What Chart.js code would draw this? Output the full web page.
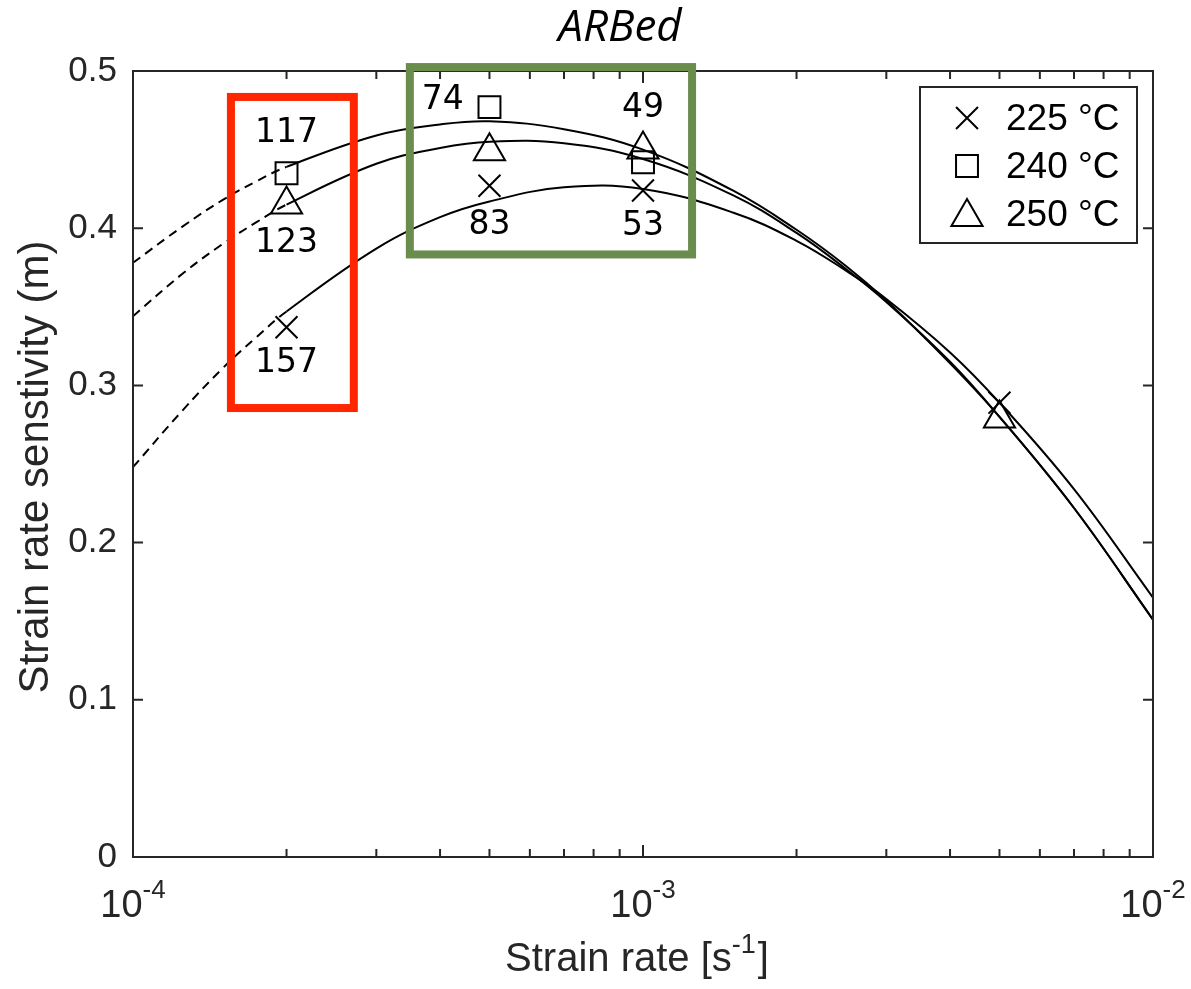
<!DOCTYPE html>
<html>
<head>
<meta charset="utf-8">
<script src="https://cdn.jsdelivr.net/npm/chart.js@4/dist/chart.umd.min.js"></script>
<style>
  html, body { margin: 0; padding: 0; background: #fff; }
  #wrap { width: 1191px; height: 989px; }
</style>
</head>
<body>
<div id="wrap"><canvas id="chart" width="1191" height="989"></canvas></div>
<script>
// measured points (strain rate, m)
var series = ['225 °C', '240 °C', '250 °C'];
var styles = ['crossRot', 'rect', 'triangle'];
var x225 = [2e-4, 5e-4, 1e-3, 5e-3];
var m225 = [0.337, 0.427, 0.424, 0.289];
var x240 = [2e-4, 5e-4, 1e-3];
var m240 = [0.435, 0.477, 0.442];
var x250 = [2e-4, 5e-4, 1e-3, 5e-3];
var m250 = [0.415, 0.449, 0.450, 0.279];

// fitted curves
var fitX   = [1e-4, 1.25e-4, 1.5e-4, 1.75e-4, 2e-4, 3e-4, 4e-4, 5e-4, 7e-4, 1e-3, 1.5e-3, 2e-3, 2.5e-3, 3e-3, 4e-3, 5e-3, 7e-3, 1e-2];
var fit225 = [0.248, 0.284, 0.311, 0.331, 0.347, 0.387, 0.407, 0.417, 0.426, 0.425, 0.410, 0.392, 0.373, 0.355, 0.321, 0.289, 0.234, 0.165];
var fit240 = [0.378, 0.401, 0.418, 0.430, 0.439, 0.459, 0.466, 0.468, 0.463, 0.450, 0.424, 0.399, 0.376, 0.354, 0.314, 0.280, 0.222, 0.151];
var fit250 = [0.344, 0.371, 0.390, 0.404, 0.415, 0.441, 0.451, 0.455, 0.454, 0.444, 0.421, 0.397, 0.374, 0.353, 0.315, 0.280, 0.222, 0.151];
var dashedUntil = 2e-4;

// axis ticks
var yTicks = [0, 0.1, 0.2, 0.3, 0.4, 0.5];
var xMajor = [1e-4, 1e-3, 1e-2];
var xTickLabels = ['10^-4', '10^-3', '10^-2'];
var xMinor = [2e-4, 3e-4, 4e-4, 5e-4, 6e-4, 7e-4, 8e-4, 9e-4, 2e-3, 3e-3, 4e-3, 5e-3, 6e-3, 7e-3, 8e-3, 9e-3];

// annotations (text, strain rate, m)
var noteText = ['117', '123', '157', '74', '83', '49', '53'];
var noteX = [2e-4, 2e-4, 2e-4, 4.05e-4, 5e-4, 1e-3, 1e-3];
var noteY = [0.460, 0.390, 0.314, 0.481, 0.402, 0.476, 0.401];
// highlight boxes [x1, x2, y1, y2]
var redBox = [1.556e-4, 2.71e-4, 0.2856, 0.4835];
var greenBox = [3.49e-4, 1.248e-3, 0.3833, 0.5025];

function pts(xs, ys) {
  return xs.map(function (v, i) { return { x: v, y: ys[i] }; });
}

var axisCol = '#262626';
var sans = '"Liberation Sans", Arial, sans-serif';

function fitSet(ys) {
  return {
    type: 'line',
    data: pts(fitX, ys),
    borderColor: '#000',
    borderWidth: 2,
    pointRadius: 0,
    fill: false,
    tension: 0.4,
    segment: {
      borderDash: function (c) { return c.p1.parsed.x <= dashedUntil * 1.0001 ? [9, 6] : undefined; }
    }
  };
}
function markSet(i, xs, ys) {
  return {
    label: series[i],
    data: pts(xs, ys),
    showLine: false,
    pointStyle: styles[i],
    pointRadius: styles[i] == 'triangle' ? 18 : 15.5,
    pointBackgroundColor: 'rgba(0,0,0,0)',
    pointBorderColor: '#000',
    pointBorderWidth: 2
  };
}

// draws "base^sup" starting at x (align left) or centred on x, returns end x
function supText(ctx, s, x, y, size, supSize, rise, centred) {
  var parts = s.split('^');
  ctx.font = size + 'px ' + sans;
  var w1 = ctx.measureText(parts[0]).width;
  ctx.font = supSize + 'px ' + sans;
  var w2 = parts[1] ? ctx.measureText(parts[1]).width : 0;
  var x0 = centred ? x - (w1 + w2) / 2 : x;
  ctx.textAlign = 'left';
  ctx.font = size + 'px ' + sans;
  ctx.fillText(parts[0], x0, y);
  if (parts[1]) {
    ctx.font = supSize + 'px ' + sans;
    ctx.fillText(parts[1], x0 + w1, y - rise);
  }
  return x0 + w1 + w2;
}

var overlay = {
  id: 'overlay',
  afterDraw: function (chart) {
    var ctx = chart.ctx, a = chart.chartArea, xs = chart.scales.x, ys = chart.scales.y;
    ctx.save();
    ctx.strokeStyle = axisCol;
    ctx.lineWidth = 2;
    ctx.strokeRect(a.left, a.top, a.right - a.left, a.bottom - a.top);

    ctx.beginPath();
    xMajor.forEach(function (v) {
      var px = xs.getPixelForValue(v);
      ctx.moveTo(px, a.bottom); ctx.lineTo(px, a.bottom - 12);
      ctx.moveTo(px, a.top); ctx.lineTo(px, a.top + 12);
    });
    xMinor.forEach(function (v) {
      var px = xs.getPixelForValue(v);
      ctx.moveTo(px, a.bottom); ctx.lineTo(px, a.bottom - 8);
      ctx.moveTo(px, a.top); ctx.lineTo(px, a.top + 8);
    });
    yTicks.forEach(function (v) {
      var py = ys.getPixelForValue(v);
      ctx.moveTo(a.left, py); ctx.lineTo(a.left + 10, py);
      ctx.moveTo(a.right, py); ctx.lineTo(a.right - 10, py);
    });
    ctx.stroke();

    // x tick labels and axis titles
    ctx.fillStyle = axisCol;
    ctx.textBaseline = 'alphabetic';
    xMajor.forEach(function (v, i) {
      supText(ctx, xTickLabels[i], xs.getPixelForValue(v), 917, 38, 26, 19, true);
    });
    // x title: measure, then centre at 637
    var tSize = 40, sSize = 27;
    ctx.font = tSize + 'px ' + sans;
    var wa = ctx.measureText('Strain rate [s').width, wc = ctx.measureText(']').width;
    ctx.font = sSize + 'px ' + sans;
    var wb = ctx.measureText('-1').width;
    var tx = 637 - (wa + wb + wc + 2) / 2;
    var ex = supText(ctx, 'Strain rate [s^-1', tx, 971, tSize, sSize, 18, false);
    ctx.font = tSize + 'px ' + sans;
    ctx.fillText(']', ex + 2, 971);

    ctx.save();
    ctx.translate(48, 467);
    ctx.rotate(-Math.PI / 2);
    ctx.textAlign = 'center';
    ctx.font = '42px ' + sans;
    ctx.fillText('Strain rate senstivity (m)', 0, 0);
    ctx.restore();

    // title
    ctx.fillStyle = '#000';
    ctx.textAlign = 'center';
    ctx.textBaseline = 'middle';
    ctx.font = 'italic 44px "Open Sans", sans-serif';
    ctx.fillText('ARBed', 620, 28);

    // highlight boxes
    function box(b, col) {
      var x1 = xs.getPixelForValue(b[0]), x2 = xs.getPixelForValue(b[1]);
      var y1 = ys.getPixelForValue(b[3]), y2 = ys.getPixelForValue(b[2]);
      ctx.strokeStyle = col;
      ctx.lineWidth = 8;
      ctx.strokeRect(x1, y1, x2 - x1, y2 - y1);
    }
    box(redBox, '#FF2600');
    box(greenBox, '#6A8D4E');

    // numbers
    ctx.fillStyle = '#000';
    ctx.font = '33px "DejaVu Sans", sans-serif';
    noteText.forEach(function (t, i) {
      ctx.fillText(t, xs.getPixelForValue(noteX[i]), ys.getPixelForValue(noteY[i]));
    });

    // legend
    ctx.fillStyle = '#fff';
    ctx.fillRect(920, 87, 217, 156);
    ctx.strokeStyle = axisCol;
    ctx.lineWidth = 2;
    ctx.strokeRect(920, 87, 217, 156);
    var rows = [118, 166, 214];
    ctx.textAlign = 'left';
    ctx.font = '37px ' + sans;
    series.forEach(function (s, i) {
      ctx.strokeStyle = '#000';
      ctx.fillStyle = 'rgba(0,0,0,0)';
      Chart.helpers.drawPoint(ctx, {
        pointStyle: styles[i],
        radius: styles[i] == 'triangle' ? 18 : 15.5,
        borderWidth: 2
      }, 967, rows[i] + (styles[i] == 'triangle' ? 3 : 0));
      ctx.fillStyle = '#000';
      ctx.fillText(s, 1006, rows[i] + 2);
    });
    ctx.restore();
  }
};

new Chart(document.getElementById('chart'), {
  type: 'scatter',
  data: {
    datasets: [
      markSet(0, x225, m225),
      markSet(1, x240, m240),
      markSet(2, x250, m250),
      fitSet(fit225),
      fitSet(fit240),
      fitSet(fit250)
    ]
  },
  options: {
    responsive: false,
    animation: false,
    devicePixelRatio: 1,
    layout: { padding: { left: 0, top: 71, right: 38, bottom: 132 } },
    plugins: { legend: { display: false }, tooltip: { enabled: false } },
    scales: {
      x: {
        type: 'logarithmic', min: 1e-4, max: 1e-2,
        grid: { display: false, drawTicks: false },
        border: { display: false },
        ticks: { display: false },
        afterFit: function (s) { s.height = 0; }
      },
      y: {
        min: 0, max: 0.5,
        grid: { display: false, drawTicks: false },
        border: { display: false },
        afterBuildTicks: function (s) { s.ticks = yTicks.map(function (v) { return { value: v }; }); },
        ticks: {
          padding: 16,
          color: axisCol,
          font: { family: sans, size: 35 },
          callback: function (v) { return v === 0 ? '0' : v.toFixed(1); }
        },
        afterFit: function (s) { s.width = 133; }
      }
    }
  },
  plugins: [overlay]
});
</script>
</body>
</html>
